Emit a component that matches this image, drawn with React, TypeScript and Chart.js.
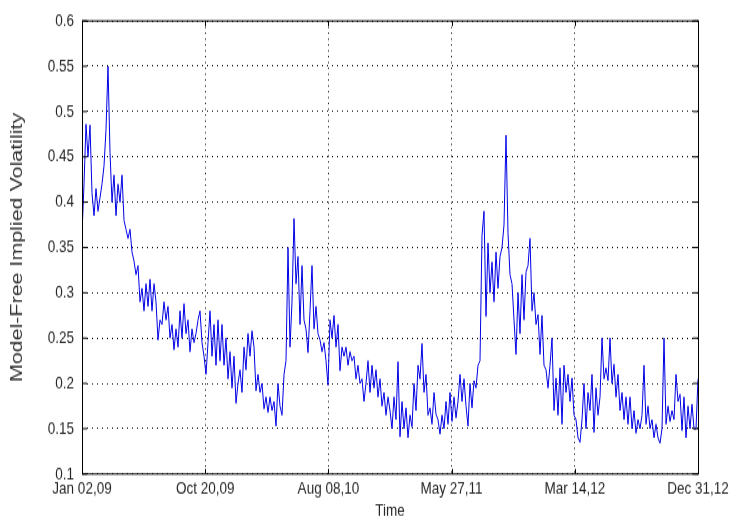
import React, { useEffect, useRef } from "react";
import { Chart, registerables } from "chart.js";

Chart.register(...registerables);

// X tick labels (dates), evenly spaced over the series
const xTickLabels = ["Jan 02,09", "Oct 20,09", "Aug 08,10", "May 27,11", "Mar 14,12", "Dec 31,12"];
const yTickValues = [0.1, 0.15, 0.2, 0.25, 0.3, 0.35, 0.4, 0.45, 0.5, 0.55, 0.6];
const yTickLabels = ["0.1", "0.15", "0.2", "0.25", "0.3", "0.35", "0.4", "0.45", "0.5", "0.55", "0.6"];

// Model-free implied volatility, sampled along time (Jan 2009 – Dec 2012)
const volatility = [
  0.365, 0.42, 0.486, 0.45, 0.485, 0.41, 0.385, 0.415, 0.39, 0.405,
  0.42, 0.44, 0.48, 0.55, 0.455, 0.4, 0.43, 0.385, 0.42, 0.4,
  0.43, 0.38, 0.37, 0.36, 0.37, 0.345, 0.335, 0.32, 0.33, 0.29,
  0.305, 0.28, 0.31, 0.285, 0.315, 0.28, 0.31, 0.29, 0.248, 0.27,
  0.265, 0.29, 0.27, 0.285, 0.25, 0.265, 0.237, 0.26, 0.24, 0.28,
  0.25, 0.288, 0.255, 0.27, 0.235, 0.26, 0.245, 0.255, 0.27, 0.28,
  0.245, 0.23, 0.21, 0.245, 0.28, 0.23, 0.265, 0.22, 0.27, 0.225,
  0.265, 0.22, 0.25, 0.205, 0.235, 0.195, 0.23, 0.178, 0.2, 0.215,
  0.19, 0.24, 0.215, 0.255, 0.23, 0.258, 0.24, 0.192, 0.21, 0.19,
  0.2, 0.172, 0.185, 0.168, 0.185, 0.17, 0.18, 0.153, 0.2, 0.175,
  0.165, 0.21, 0.225, 0.35, 0.24, 0.29, 0.382, 0.31, 0.34, 0.265,
  0.33, 0.27, 0.26, 0.234, 0.28, 0.33, 0.26, 0.285, 0.255, 0.248,
  0.235, 0.245, 0.225, 0.198, 0.27, 0.25, 0.275, 0.24, 0.265, 0.214,
  0.24, 0.23, 0.24, 0.22, 0.235, 0.225, 0.23, 0.205, 0.22, 0.2,
  0.205, 0.18, 0.2, 0.225, 0.19, 0.22, 0.195, 0.215, 0.185, 0.205,
  0.175, 0.19, 0.165, 0.185, 0.17, 0.15, 0.185, 0.16, 0.224, 0.141,
  0.18, 0.15, 0.173, 0.14, 0.165, 0.152, 0.2, 0.17, 0.22, 0.205,
  0.244, 0.19, 0.21, 0.165, 0.173, 0.155, 0.19, 0.166, 0.16, 0.144,
  0.165, 0.15, 0.18, 0.155, 0.19, 0.158, 0.185, 0.162, 0.18, 0.21,
  0.18, 0.205, 0.175, 0.153, 0.2, 0.173, 0.203, 0.195, 0.22, 0.225,
  0.363, 0.39, 0.274, 0.355, 0.3, 0.334, 0.29, 0.345, 0.305, 0.34,
  0.35, 0.375, 0.474, 0.366, 0.32, 0.31, 0.27, 0.232, 0.3, 0.255,
  0.32, 0.27, 0.323, 0.33, 0.36, 0.28, 0.3, 0.265, 0.276, 0.232,
  0.275, 0.22, 0.215, 0.195, 0.22, 0.25, 0.17, 0.206, 0.165, 0.217,
  0.155, 0.22, 0.19, 0.21, 0.18, 0.206, 0.165, 0.16, 0.14, 0.135,
  0.16, 0.2, 0.15, 0.19, 0.17, 0.21, 0.146, 0.195, 0.165, 0.185,
  0.25, 0.205, 0.217, 0.203, 0.25, 0.2, 0.221, 0.185, 0.21, 0.17,
  0.19, 0.16, 0.185, 0.155, 0.185, 0.15, 0.17, 0.145, 0.16, 0.15,
  0.165, 0.22, 0.155, 0.175, 0.15, 0.16, 0.14, 0.155, 0.14, 0.134,
  0.15, 0.25, 0.155, 0.175, 0.158, 0.17, 0.16, 0.21, 0.18, 0.188,
  0.148, 0.185, 0.14, 0.175, 0.15, 0.177, 0.15, 0.15, 0.205,
];

const FONT = "'Liberation Sans', Arial, Helvetica, sans-serif";

// The original figure is stretched vertically; draw at a shorter height and stretch with CSS.
const W = 740;
const H_OUT = 521;
const H_IN = 401;
const K = H_OUT / H_IN;

const boxPlugin = {
  id: "matlabBox",
  afterDraw(chart: any) {
    const { ctx, chartArea: a, scales } = chart;
    ctx.save();
    ctx.strokeStyle = "#000";
    ctx.lineWidth = 1;
    ctx.setLineDash([]);
    ctx.beginPath();
    const tlx = 5;
    const tly = 4;
    scales.x.ticks.forEach((t: any) => {
      const px = Math.round(scales.x.getPixelForValue(t.value)) + 0.5;
      ctx.moveTo(px, a.bottom);
      ctx.lineTo(px, a.bottom - tly);
      ctx.moveTo(px, a.top);
      ctx.lineTo(px, a.top + tly);
    });
    scales.y.ticks.forEach((t: any) => {
      const py = scales.y.getPixelForValue(t.value);
      ctx.moveTo(a.left, py);
      ctx.lineTo(a.left + tlx, py);
      ctx.moveTo(a.right, py);
      ctx.lineTo(a.right - tlx, py);
    });
    ctx.stroke();
    ctx.strokeRect(Math.round(a.left) + 0.5, a.top, Math.round(a.right - a.left), a.bottom - a.top);
    ctx.restore();
  },
};

export default function App() {
  const ref = useRef<HTMLCanvasElement>(null);
  useEffect(() => {
    document.body.style.margin = "0";
    const n = volatility.length;
    const data = volatility.map((v, i) => ({ x: i, y: v }));
    const xTickValues = xTickLabels.map((_, k) => (k * (n - 1)) / (xTickLabels.length - 1));
    const chart = new Chart(ref.current!, {
      type: "line",
      data: {
        datasets: [
          {
            data,
            borderColor: "#0000e6",
            borderWidth: 1,
            pointRadius: 0,
            tension: 0,
            fill: false,
          },
        ],
      },
      options: {
        animation: false,
        responsive: false,
        devicePixelRatio: 1,
        events: [],
        layout: { padding: { top: 16 / K, right: 42, left: 0, bottom: 0 } },
        plugins: { legend: { display: false }, tooltip: { enabled: false } },
        scales: {
          x: {
            type: "linear",
            min: 0,
            max: n - 1,
            afterBuildTicks: (s: any) => {
              s.ticks = xTickValues.map((v) => ({ value: v }));
            },
            afterFit: (s: any) => {
              s.height = (H_OUT - 474) / K;
            },
            ticks: {
              autoSkip: false,
              maxRotation: 0,
              padding: 3,
              color: "#262626",
              font: { family: FONT, size: 13.5 },
              callback: (_v: any, i: number) => xTickLabels[i],
            },
            grid: { color: "#000", lineWidth: 1, drawTicks: false },
            border: { display: false, dash: [1, 3.5] },
            title: {
              display: true,
              text: "Time",
              color: "#262626",
              font: { family: FONT, size: 13.5 },
              padding: { top: 0, bottom: 0 },
            },
          },
          y: {
            type: "linear",
            min: 0.1,
            max: 0.6,
            afterBuildTicks: (s: any) => {
              s.ticks = yTickValues.map((v) => ({ value: v }));
            },
            afterFit: (s: any) => {
              s.width = 82;
            },
            ticks: {
              padding: 8,
              color: "#262626",
              font: { family: FONT, size: 13.5 },
              callback: (_v: any, i: number) => yTickLabels[i],
            },
            grid: { color: "#000", lineWidth: 1, drawTicks: false },
            border: { display: false, dash: [1, 4] },
            title: {
              display: true,
              text: "Model-Free Implied Volatility",
              color: "#333",
              font: { family: FONT, size: 16.5 },
              padding: { top: 8, bottom: 0 },
            },
          },
        },
      },
      plugins: [boxPlugin],
    });
    return () => chart.destroy();
  }, []);
  return (
    <div style={{ width: W, height: H_OUT }}>
      <canvas
        ref={ref}
        width={W}
        height={H_IN}
        style={{ display: "block", width: W + "px", height: H_OUT + "px" }}
      />
    </div>
  );
}
